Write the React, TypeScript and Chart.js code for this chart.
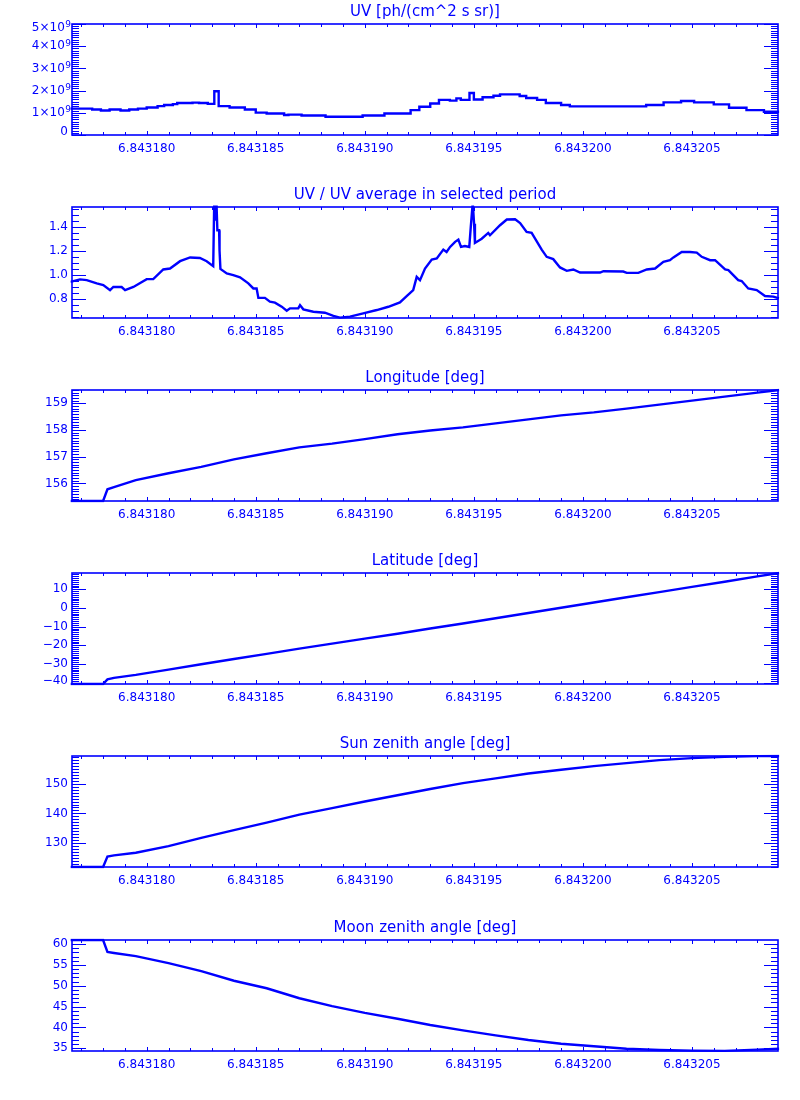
import React, { useEffect, useRef } from 'react';
import { Chart, registerables } from 'chart.js';

Chart.register(...registerables);

const BLUE = '#0000ff';

// ---------- X axis (shared) ----------
const xMin = 6.843176575;
const xMax = 6.843208945;
const xTicks = [6.84318, 6.843185, 6.84319, 6.843195, 6.8432, 6.843205];
const xTickLabels = ['6.843180', '6.843185', '6.843190', '6.843195', '6.843200', '6.843205'];
const xMinorStep = 1e-6;

// ---------- Panel 1: UV (step data) ----------
const uvTimes = [
  6.8431765, 6.8431775, 6.8431779, 6.8431783, 6.8431788, 6.8431792, 6.8431796, 6.84318,
  6.8431805, 6.8431808, 6.8431812, 6.8431814, 6.8431821, 6.8431824, 6.8431828, 6.8431831,
  6.8431833, 6.8431838, 6.8431845, 6.843185, 6.8431855, 6.8431863, 6.8431865, 6.8431871,
  6.8431882, 6.8431899, 6.8431909, 6.8431921, 6.8431925, 6.843193, 6.8431934, 6.8431939,
  6.8431942, 6.8431944, 6.8431948, 6.843195, 6.8431954, 6.8431959, 6.8431962, 6.8431971,
  6.8431974, 6.8431979, 6.8431983, 6.843199, 6.8431994, 6.8432029, 6.8432037, 6.8432045,
  6.8432051, 6.843206, 6.8432067, 6.8432075, 6.8432083, 6.843209,
];
const uvValues = [
  1.19e9, 1.15e9, 1.105e9, 1.15e9, 1.105e9, 1.15e9, 1.19e9, 1.24e9,
  1.3e9, 1.35e9, 1.39e9, 1.44e9, 1.46e9, 1.44e9, 1.4e9, 1.97e9,
  1.3e9, 1.24e9, 1.15e9, 1.01e9, 0.97e9, 0.9e9, 0.92e9, 0.88e9,
  0.82e9, 0.88e9, 0.97e9, 1.12e9, 1.27e9, 1.42e9, 1.58e9, 1.55e9,
  1.65e9, 1.58e9, 1.89e9, 1.6e9, 1.7e9, 1.77e9, 1.83e9, 1.76e9,
  1.67e9, 1.58e9, 1.44e9, 1.35e9, 1.29e9, 1.35e9, 1.47e9, 1.53e9,
  1.47e9, 1.38e9, 1.23e9, 1.12e9, 1.045e9, 1.045e9,
];
const uvTicks = [0, 1e9, 2e9, 3e9, 4e9, 5e9];
const uvTickLabels = ['0', '1×10^9', '2×10^9', '3×10^9', '4×10^9', '5×10^9'];

// ---------- Panel 2: UV / average ----------
const ratioTimes = [
  6.8431765, 6.84317694, 6.84317725, 6.84317771, 6.84317801, 6.84317832, 6.84317847, 6.84317885,
  6.84317901, 6.84317939, 6.84318, 6.8431803, 6.84318076, 6.84318107, 6.84318153, 6.84318199,
  6.84318244, 6.84318275, 6.84318305, 6.8431831, 6.84318314, 6.84318319, 6.84318324, 6.84318332,
  6.84318334, 6.84318338, 6.84318367, 6.84318397, 6.84318428, 6.84318466, 6.84318489, 6.84318504,
  6.84318512, 6.84318542, 6.84318565, 6.84318588, 6.84318619, 6.84318642, 6.84318657, 6.84318695,
  6.84318703, 6.84318718, 6.84318764, 6.84318817, 6.84318856, 6.84318886, 6.84318932, 6.84318993,
  6.84319055, 6.84319108, 6.84319161, 6.84319192, 6.84319222, 6.84319238, 6.84319253, 6.84319276,
  6.84319307, 6.8431933, 6.8431936, 6.84319375, 6.84319391, 6.84319414, 6.84319429, 6.84319441,
  6.84319459, 6.84319479, 6.84319486, 6.84319495, 6.84319501, 6.84319505, 6.84319536, 6.84319566,
  6.84319574, 6.8431962, 6.84319651, 6.84319689, 6.84319712, 6.84319742, 6.84319765, 6.84319811,
  6.84319834, 6.84319864, 6.84319895, 6.84319926, 6.84319956, 6.84319987, 6.84320079, 6.84320094,
  6.84320185, 6.84320201, 6.84320254, 6.84320293, 6.84320331, 6.84320369, 6.84320399, 6.84320415,
  6.84320453, 6.84320491, 6.84320522, 6.84320545, 6.84320583, 6.84320606, 6.84320652, 6.84320667,
  6.84320712, 6.84320728, 6.84320758, 6.84320797, 6.84320835, 6.84320873, 6.84320899,
];
const ratioValues = [
  0.943, 0.963, 0.957, 0.93, 0.916, 0.874, 0.9, 0.9,
  0.874, 0.9, 0.965, 0.965, 1.045, 1.053, 1.114, 1.145,
  1.14, 1.114, 1.073, 1.65, 1.45, 1.65, 1.37, 1.37,
  1.2, 1.05, 1.012, 0.998, 0.98, 0.93, 0.888, 0.888,
  0.81, 0.81, 0.778, 0.77, 0.737, 0.703, 0.723, 0.723,
  0.75, 0.715, 0.695, 0.687, 0.66, 0.646, 0.654, 0.682,
  0.709, 0.736, 0.772, 0.825, 0.874, 0.984, 0.957, 1.053,
  1.128, 1.136, 1.21, 1.19, 1.232, 1.274, 1.293, 1.232,
  1.24, 1.232, 1.4, 1.6, 1.425, 1.265, 1.3, 1.348,
  1.329, 1.412, 1.459, 1.461, 1.43, 1.356, 1.348, 1.21,
  1.15, 1.131, 1.062, 1.034, 1.045, 1.02, 1.02, 1.031,
  1.028, 1.017, 1.017, 1.045, 1.053, 1.108, 1.122, 1.145,
  1.19, 1.19, 1.185, 1.15, 1.122, 1.122, 1.045, 1.04,
  0.957, 0.95, 0.888, 0.874, 0.825, 0.82, 0.806,
];
const ratioTicks = [0.8, 1.0, 1.2, 1.4];
const ratioTickLabels = ['0.8', '1.0', '1.2', '1.4'];

// ---------- Panels 3-6: orbit geometry (shared times) ----------
const geoTimes = [
  6.8431765, 6.843178, 6.8431782, 6.8431785, 6.8431795, 6.843181, 6.8431825, 6.843184,
  6.8431855, 6.843187, 6.8431885, 6.84319, 6.8431915, 6.843193, 6.8431945, 6.843196,
  6.8431975, 6.843199, 6.8432005, 6.843202, 6.8432035, 6.843205, 6.8432065, 6.843208,
  6.843209,
];
const lonValues = [
  155.34, 155.34, 155.78, 155.86, 156.12, 156.38, 156.62, 156.9,
  157.13, 157.35, 157.49, 157.66, 157.84, 157.98, 158.1, 158.25,
  158.4, 158.55, 158.66, 158.8, 158.95, 159.1, 159.25, 159.4,
  159.5,
];
const lonTicks = [156, 157, 158, 159];
const lonTickLabels = ['156', '157', '158', '159'];

const latValues = [
  -40.7, -40.7, -38.2, -37.4, -35.8, -33.0, -30.1, -27.3,
  -24.6, -21.8, -19.1, -16.4, -13.8, -11.0, -8.3, -5.5,
  -2.7, 0.1, 2.9, 5.7, 8.5, 11.3, 14.0, 16.9,
  18.7,
];
const latTicks = [-40, -30, -20, -10, 0, 10];
const latTickLabels = ['−40', '−30', '−20', '−10', '0', '10'];

const sunValues = [
  122.0, 122.0, 125.5, 125.9, 126.8, 129.0, 131.8, 134.4,
  136.9, 139.6, 141.8, 144.0, 146.1, 148.2, 150.2, 151.8,
  153.4, 154.7, 155.9, 156.9, 157.9, 158.6, 159.0, 159.25,
  159.3,
];
const sunTicks = [130, 140, 150];
const sunTickLabels = ['130', '140', '150'];

const moonValues = [
  60.96, 60.96, 58.1, 57.85, 57.1, 55.4, 53.5, 51.2,
  49.4, 47.0, 45.1, 43.5, 42.1, 40.6, 39.3, 38.1,
  37.0, 36.1, 35.5, 34.9, 34.6, 34.45, 34.4, 34.7,
  34.9,
];
const moonTicks = [35, 40, 45, 50, 55, 60];
const moonTickLabels = ['35', '40', '45', '50', '55', '60'];

type PanelCfg = {
  title: string;
  times: number[];
  values: number[];
  stepped: boolean;
  yMin: number;
  yMax: number;
  yTicks: number[];
  yLabels: string[];
  yMinorStep: number;
};

const panels: PanelCfg[] = [
  { title: 'UV [ph/(cm^2 s sr)]', times: uvTimes, values: uvValues, stepped: true, yMin: 0, yMax: 5e9, yTicks: uvTicks, yLabels: uvTickLabels, yMinorStep: 1e8 },
  { title: 'UV / UV average in selected period', times: ratioTimes, values: ratioValues, stepped: false, yMin: 0.643, yMax: 1.563, yTicks: ratioTicks, yLabels: ratioTickLabels, yMinorStep: 0.05 },
  { title: 'Longitude [deg]', times: geoTimes, values: lonValues, stepped: false, yMin: 155.34, yMax: 159.5, yTicks: lonTicks, yLabels: lonTickLabels, yMinorStep: 0.1 },
  { title: 'Latitude [deg]', times: geoTimes, values: latValues, stepped: false, yMin: -40.7, yMax: 18.7, yTicks: latTicks, yLabels: latTickLabels, yMinorStep: 1 },
  { title: 'Sun zenith angle [deg]', times: geoTimes, values: sunValues, stepped: false, yMin: 122.0, yMax: 159.3, yTicks: sunTicks, yLabels: sunTickLabels, yMinorStep: 1 },
  { title: 'Moon zenith angle [deg]', times: geoTimes, values: moonValues, stepped: false, yMin: 34.36, yMax: 60.96, yTicks: moonTicks, yLabels: moonTickLabels, yMinorStep: 1 },
];

const CANVAS_W = 800;
const CANVAS_H = 183;
const PANEL_TOPS = [0, 183, 366, 549, 732, 916];
const FONT = '"DejaVu Sans", "Liberation Sans", sans-serif';

function rangeSteps(min: number, max: number, step: number): number[] {
  const out: number[] = [];
  const a = Math.ceil(min / step - 1e-9);
  const b = Math.floor(max / step + 1e-9);
  for (let i = a; i <= b; i++) out.push(i * step);
  return out;
}

function makeAxesPlugin(cfg: PanelCfg) {
  return {
    id: 'idlAxes',
    afterDraw(chart: any) {
      const { ctx, chartArea } = chart;
      const { left, right, top, bottom } = chartArea;
      const xs = chart.scales.x;
      const ys = chart.scales.y;
      ctx.save();
      ctx.strokeStyle = BLUE;
      ctx.fillStyle = BLUE;

      // ticks
      ctx.lineWidth = 1;
      ctx.beginPath();
      rangeSteps(xMin, xMax, xMinorStep).forEach((v) => {
        const px = Math.round(xs.getPixelForValue(v)) + 0.5;
        ctx.moveTo(px, bottom);
        ctx.lineTo(px, bottom - 3);
        ctx.moveTo(px, top);
        ctx.lineTo(px, top + 3);
      });
      xTicks.forEach((v) => {
        const px = Math.round(xs.getPixelForValue(v)) + 0.5;
        ctx.moveTo(px, bottom);
        ctx.lineTo(px, bottom - 4);
        ctx.moveTo(px, top);
        ctx.lineTo(px, top + 4);
      });
      rangeSteps(cfg.yMin, cfg.yMax, cfg.yMinorStep).forEach((v) => {
        const py = Math.round(ys.getPixelForValue(v)) + 0.5;
        ctx.moveTo(left, py);
        ctx.lineTo(left + 7, py);
        ctx.moveTo(right, py);
        ctx.lineTo(right - 7, py);
      });
      cfg.yTicks.forEach((v) => {
        const py = Math.round(ys.getPixelForValue(v)) + 0.5;
        ctx.moveTo(left, py);
        ctx.lineTo(left + 14, py);
        ctx.moveTo(right, py);
        ctx.lineTo(right - 14, py);
      });
      ctx.stroke();

      // frame
      ctx.lineWidth = 1.6;
      ctx.strokeRect(left, top, right - left, bottom - top);

      // x labels
      ctx.font = '12px ' + FONT;
      ctx.textAlign = 'center';
      ctx.textBaseline = 'middle';
      xTicks.forEach((v, i) => {
        ctx.fillText(xTickLabels[i], xs.getPixelForValue(v), bottom + 14);
      });

      // y labels
      ctx.textAlign = 'right';
      cfg.yTicks.forEach((v, i) => {
        let ty = ys.getPixelForValue(v);
        ty = Math.max(top + 4, Math.min(bottom - 3.5, ty));
        const label = cfg.yLabels[i];
        const parts = label.split('^');
        if (parts.length === 2) {
          ctx.font = '9px ' + FONT;
          const sw = ctx.measureText(parts[1]).width;
          ctx.fillText(parts[1], 71, ty - 3);
          ctx.font = '12px ' + FONT;
          ctx.fillText(parts[0], 71 - sw - 0.5, ty);
        } else {
          ctx.font = '12px ' + FONT;
          ctx.fillText(label, 68, ty);
        }
      });

      // title
      ctx.font = '15px ' + FONT;
      ctx.textAlign = 'center';
      ctx.fillText(cfg.title, (left + right) / 2, top - 11.5);
      ctx.restore();
    },
  };
}

function Panel({ cfg, top }: { cfg: PanelCfg; top: number }) {
  const ref = useRef<HTMLCanvasElement | null>(null);
  useEffect(() => {
    if (!ref.current) return;
    const points = cfg.times.map((t, i) => ({ x: t, y: cfg.values[i] }));
    const chart = new Chart(ref.current, {
      type: 'line',
      data: {
        datasets: [
          {
            data: points,
            borderColor: BLUE,
            backgroundColor: BLUE,
            borderWidth: 2.4,
            pointRadius: 0,
            tension: 0,
            stepped: cfg.stepped ? 'before' : false,
            fill: false,
            clip: 1.5,
          } as any,
        ],
      },
      options: {
        responsive: false,
        animation: false,
        events: [],
        layout: { padding: { left: 72, right: 22, top: 24, bottom: 48 } },
        scales: {
          x: { type: 'linear', min: xMin, max: xMax, display: false },
          y: { type: 'linear', min: cfg.yMin, max: cfg.yMax, display: false },
        },
        plugins: { legend: { display: false }, tooltip: { enabled: false }, title: { display: false } },
      },
      plugins: [makeAxesPlugin(cfg)],
    });
    return () => chart.destroy();
  }, [cfg]);
  return (
    <canvas
      ref={ref}
      width={CANVAS_W}
      height={CANVAS_H}
      style={{ position: 'absolute', left: 0, top, width: CANVAS_W, height: CANVAS_H }}
    />
  );
}

export default function App() {
  return (
    <div style={{ position: 'absolute', left: 0, top: 0, width: 800, height: 1100, background: '#ffffff' }}>
      {panels.map((p, i) => (
        <Panel key={i} cfg={p} top={PANEL_TOPS[i]} />
      ))}
    </div>
  );
}
